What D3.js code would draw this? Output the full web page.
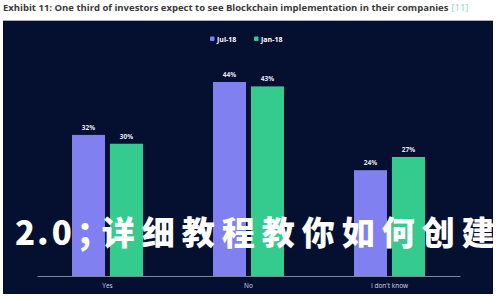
<!DOCTYPE html>
<html><head><meta charset="utf-8">
<script src="https://cdn.jsdelivr.net/npm/d3@7"></script>
<style>
html,body{margin:0;padding:0;background:#fff;}
svg{display:block;}
</style></head>
<body>
<svg id="c" width="500" height="300"></svg>
<script>
const categories = ["Yes", "No", "I don't know"];
const seriesNames = ["Jul-18", "Jan-18"];
const jul18 = [32, 44, 24];
const jan18 = [30, 43, 27];
const titleText = "Exhibit 11: One third of investors expect to see Blockchain implementation in their companies";
const titleRef = "[11]";
const watermark = "2.0；详细教程教你如何创建";

const colors = ["#8080f0", "#36cb8e"];
const svg = d3.select("#c");

// title
const t = svg.append("text").attr("x", 3).attr("y", 11)
  .attr("font-family", "Open Sans, sans-serif").attr("font-weight", 700)
  .attr("font-size", 9.5).attr("fill", "#3a3a3a");
t.append("tspan").text(titleText);
t.append("tspan").attr("dx", 3).attr("fill", "#7fd8c0").attr("font-weight", 400).text(titleRef);

// panel
svg.append("rect").attr("x", 3).attr("y", 20).attr("width", 490).attr("height", 274).attr("fill", "#050f30");
svg.append("line").attr("x1", 3).attr("x2", 493).attr("y1", 20.5).attr("y2", 20.5).attr("stroke", "#aab0bb").attr("stroke-width", 1);

const x0 = d3.scaleBand().domain(categories).range([37, 460]).paddingInner(0).paddingOuter(0);
const x1 = d3.scaleBand().domain(seriesNames).range([35, 106]).paddingInner(0.13);
const y = d3.scaleLinear().domain([0, 44]).range([276, 82]);

const data = categories.map((c, i) => ({c, vals: [jul18[i], jan18[i]]}));

const g = svg.append("g");
const groups = g.selectAll("g.cat").data(data).join("g")
  .attr("transform", d => `translate(${x0(d.c)},0)`);
groups.selectAll("rect").data(d => d.vals.map((v, j) => ({s: seriesNames[j], v, j})))
  .join("rect")
  .attr("x", d => x1(d.s)).attr("width", x1.bandwidth())
  .attr("y", d => y(d.v)).attr("height", d => y(0) - y(d.v))
  .attr("fill", d => colors[d.j]);
groups.selectAll("text.val").data(d => d.vals.map((v, j) => ({s: seriesNames[j], v, j})))
  .join("text").attr("class", "val")
  .attr("x", d => x1(d.s) + x1.bandwidth() / 2).attr("y", d => y(d.v) - 5)
  .attr("text-anchor", "middle").attr("font-family", "Open Sans, sans-serif")
  .attr("font-weight", 700).attr("font-size", 6.5).attr("fill", "#e8e8f4")
  .text(d => d.v + "%");

// axis
const ax = svg.append("g").attr("transform", "translate(0,276)")
  .call(d3.axisBottom(x0).tickSize(0).tickPadding(7));
ax.select(".domain").attr("stroke", "#7c8599").attr("stroke-width", 1);
ax.selectAll("text").attr("font-family", "Open Sans, sans-serif").attr("font-size", 6.5).attr("fill", "#d8dae6");

// legend
const leg = svg.append("g").attr("transform", "translate(210,39)");
const items = [{n: seriesNames[0], x: 0}, {n: seriesNames[1], x: 44}];
items.forEach((it, i) => {
  leg.append("rect").attr("x", it.x).attr("y", -2.5).attr("width", 4.5).attr("height", 4.5).attr("rx", 1).attr("fill", colors[i]);
  leg.append("text").attr("x", it.x + 7).attr("y", 2.5).attr("font-family", "Open Sans, sans-serif")
    .attr("font-weight", 700).attr("font-size", 7).attr("fill", "#ffffff").text(it.n);
});

// watermark (single text, per-glyph spacing)
svg.append("text").attr("x", 15).attr("y", 245)
  .attr("dx", "0 2 3 5 -8 7 7 7 7 7 7 7 7 7")
  .attr("font-family", "Noto Sans CJK SC, sans-serif").attr("font-weight", 900)
  .attr("font-size", 33).attr("fill", "#ffffff")
  .text(watermark);
</script>
</body></html>
